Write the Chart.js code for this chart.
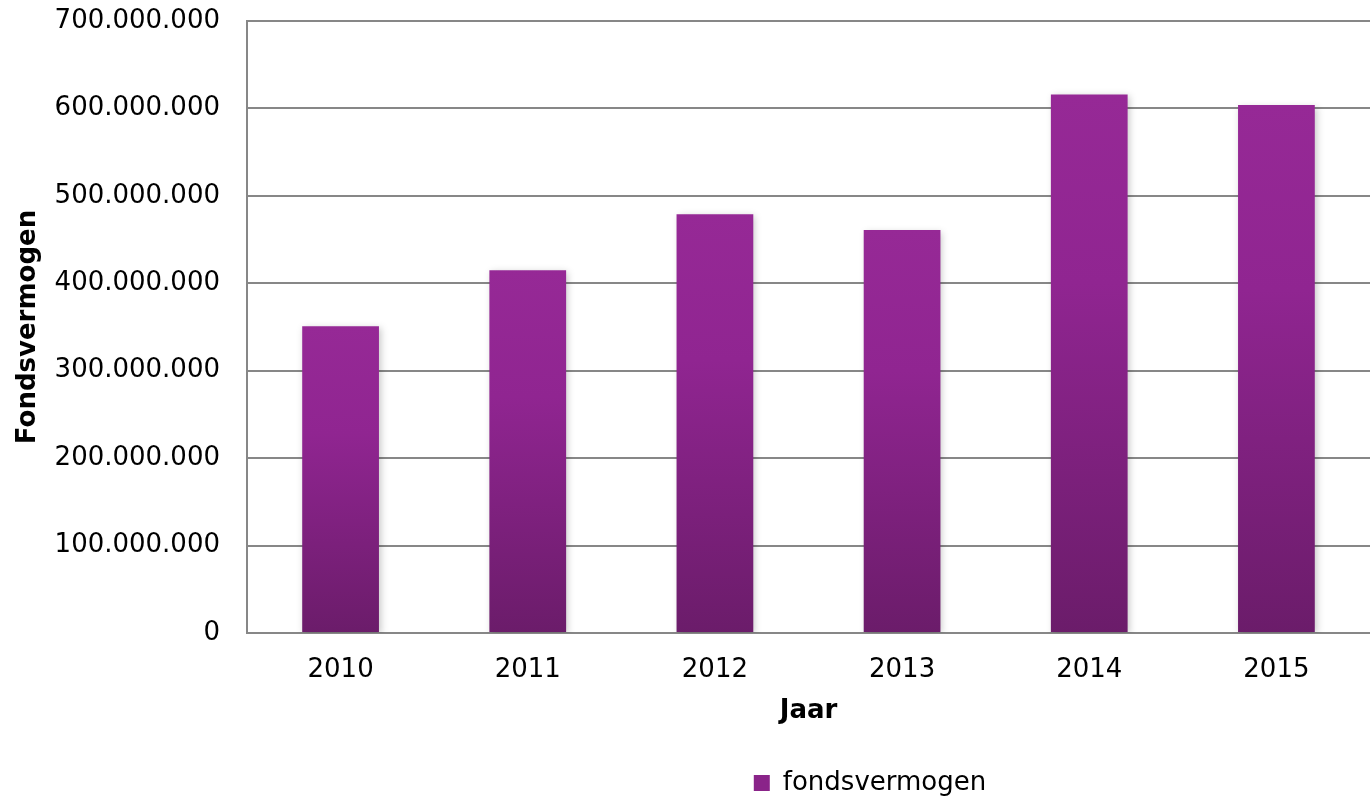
<!DOCTYPE html>
<html>
<head>
<meta charset="utf-8">
<script src="https://cdn.jsdelivr.net/npm/chart.js@4"></script>
<style>
  html, body { margin: 0; padding: 0; background: #fff; }
  #wrap { width: 1370px; height: 797px; }
</style>
</head>
<body>
<div id="wrap"><canvas id="fondsChart"></canvas></div>
<script>
const jaren = ['2010', '2011', '2012', '2013', '2014', '2015'];
const fondsvermogen = [351000000, 415000000, 479000000, 461000000, 616000000, 604000000];
const yTicks = [0, 100000000, 200000000, 300000000, 400000000, 500000000, 600000000, 700000000];

function formatNL(v) {
    return String(Math.round(v)).replace(/\B(?=(\d{3})+(?!\d))/g, '.');
}

function barGradient(context) {
    const chart = context.chart;
    const y = chart.scales.y;
    if (!chart.chartArea || !y) return '#8a2489';
    const ctx = chart.ctx;
    const v = context.raw === undefined ? y.max : context.raw;
    const top = y.getPixelForValue(v);
    const bottom = y.getPixelForValue(0);
    const g = ctx.createLinearGradient(0, top, 0, bottom);
    g.addColorStop(0, '#962996');
    g.addColorStop(0.35, '#902591');
    g.addColorStop(1, '#6b1c6a');
    return g;
}

// zachte schaduw achter de balken
const barShadow = {
    id: 'barShadow',
    beforeDatasetsDraw(chart) {
        const ctx = chart.ctx;
        ctx.save();
        ctx.shadowColor = 'rgba(0,0,0,0.22)';
        ctx.shadowBlur = 7;
        ctx.shadowOffsetX = 2;
        ctx.shadowOffsetY = 2;
    },
    afterDatasetsDraw(chart) {
        chart.ctx.restore();
    }
};

// legenda iets naar rechts, zoals in het origineel
const legendShift = {
    id: 'legendShift',
    afterLayout(chart) {
        if (chart.legend) {
            chart.legend.left += 185;
            chart.legend.right += 185;
        }
    }
};

const ctx = document.getElementById('fondsChart').getContext('2d');

const chart = new Chart(ctx, {
    type: 'bar',
    data: {
        labels: jaren,
        datasets: [
            {
                label: 'fondsvermogen',
                data: fondsvermogen,
                backgroundColor: barGradient,
                borderWidth: 0,
                categoryPercentage: 1,
                barPercentage: 0.41
            }
        ]
    },
    plugins: [barShadow, legendShift],
    options: {
        responsive: true,
        maintainAspectRatio: false,
        animation: false,
        layout: { autoPadding: false, padding: { top: 21, right: 0, left: 0, bottom: -9 } },
        font: { family: 'DejaVu Sans' },
        plugins: {
            tooltip: { enabled: false },
            legend: {
                position: 'bottom',
                labels: {
                    color: '#000',
                    font: { family: 'DejaVu Sans', size: 26 },
                    boxWidth: 16,
                    boxHeight: 16,
                    padding: 2,
                    generateLabels: (c) => [{
                        text: 'fondsvermogen',
                        fillStyle: '#8a2489',
                        strokeStyle: '#8a2489',
                        lineWidth: 0,
                        datasetIndex: 0
                    }]
                }
            }
        },
        scales: {
            x: {
                afterFit: (scale) => {
                    scale.height = 135;
                    scale.paddingLeft = 0;
                    scale.paddingRight = 0;
                },
                grid: { display: false, drawTicks: false },
                border: { display: true, color: '#878787', width: 2 },
                ticks: {
                    color: '#000',
                    padding: 22,
                    font: { family: 'DejaVu Sans', size: 26 }
                },
                title: {
                    display: true,
                    text: 'Jaar',
                    color: '#000',
                    font: { family: 'DejaVu Sans', size: 26, weight: 'bold' },
                    padding: { top: 0, bottom: 41 }
                }
            },
            y: {
                min: 0,
                max: 700000000,
                afterFit: (scale) => {
                    scale.width = 247;
                    scale.paddingTop = 0;
                    scale.paddingBottom = 0;
                },
                afterBuildTicks: (scale) => { scale.ticks = yTicks.map(v => ({ value: v })); },
                grid: { color: '#878787', lineWidth: 2, drawTicks: false },
                border: { display: true, color: '#878787', width: 2 },
                ticks: {
                    color: '#000',
                    padding: 27,
                    font: { family: 'DejaVu Sans', size: 26 },
                    callback: (v) => formatNL(v)
                },
                title: {
                    display: true,
                    text: 'Fondsvermogen',
                    color: '#000',
                    font: { family: 'DejaVu Sans', size: 26, weight: 'bold' },
                    padding: { top: 13, bottom: 0 }
                }
            }
        }
    }
});
</script>
</body>
</html>
